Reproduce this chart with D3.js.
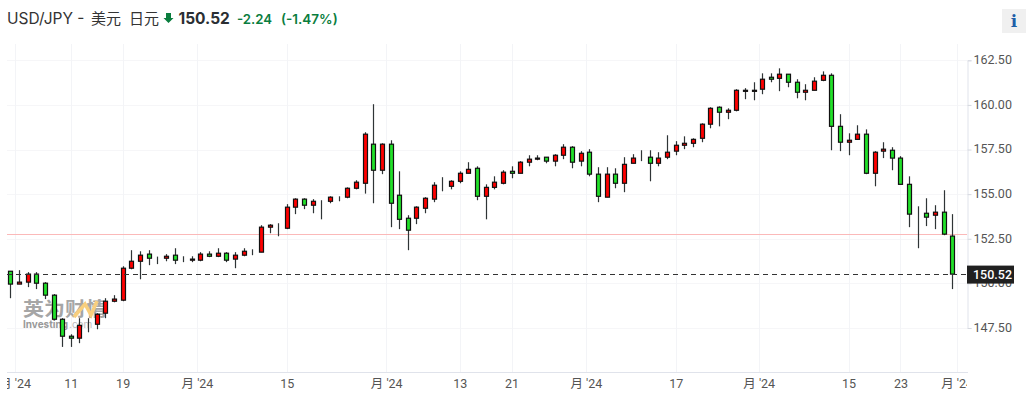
<!DOCTYPE html>
<html>
<head>
<meta charset="utf-8">
<script src="https://cdn.jsdelivr.net/npm/d3@7"></script>
<style>
  html, body { margin: 0; padding: 0; background: #fff; overflow: hidden; }
  text { font-family: Inter, "Noto Sans CJK SC", sans-serif; }
</style>
</head>
<body>
<div id="chart"></div>
<script>
// candles, oldest first
var opens = [150.68,149.96,150.07,150.52,150.01,149.34,147.99,147.04,146.93,147.71,147.71,148.33,149.00,149.06,150.85,151.24,151.64,151.41,151.41,151.58,151.36,151.30,151.30,151.64,151.52,151.69,151.36,151.58,151.75,151.75,153.15,153.26,153.09,154.27,154.72,154.38,154.60,154.60,154.83,154.83,155.33,155.61,157.80,156.34,157.80,154.94,153.65,153.65,154.21,154.72,155.44,155.44,155.72,156.17,156.45,154.88,155.38,155.61,156.28,156.17,156.79,156.96,157.07,156.85,157.18,157.63,156.85,157.35,156.12,154.83,156.12,155.61,156.73,157.07,157.07,156.73,157.07,157.41,157.74,157.85,158.13,158.92,159.87,159.59,159.70,160.76,160.76,160.88,161.55,161.49,161.72,161.27,160.71,160.82,161.38,161.66,158.80,157.91,158.07,158.36,156.17,157.41,157.46,157.02,155.55,153.93,153.93,153.82,153.99,152.65];
var highs = [150.68,150.74,150.63,150.63,150.07,149.40,148.05,147.15,148.05,148.05,148.33,149.17,149.34,150.96,151.86,151.80,151.86,151.50,151.64,151.97,151.52,151.52,151.75,151.80,151.97,151.75,151.75,151.97,151.91,153.26,153.32,153.37,154.44,154.77,154.77,154.72,154.66,154.88,154.88,155.38,155.78,158.47,160.04,157.85,158.02,156.28,153.82,154.32,154.83,155.67,155.95,155.78,156.28,156.79,156.56,155.55,156.00,156.34,156.56,156.85,157.18,157.18,157.07,157.24,157.80,157.69,157.41,157.52,156.51,156.51,156.45,157.07,157.24,157.46,157.46,157.35,158.30,157.97,158.24,158.13,158.97,159.87,159.92,159.81,160.88,160.94,161.27,161.77,161.77,162.05,161.72,161.44,161.16,161.55,161.88,161.77,159.48,158.41,158.86,158.63,157.41,157.91,157.63,157.13,156.00,154.32,154.77,154.38,155.22,153.88];
var lows = [149.17,149.96,149.79,149.68,149.12,147.93,146.44,146.44,146.65,147.26,147.43,148.05,148.94,149.00,150.79,150.23,151.02,151.08,151.24,151.08,151.19,151.19,151.24,151.47,151.47,151.19,150.85,151.52,151.58,151.75,152.81,152.64,153.04,153.88,154.16,153.93,153.59,154.49,154.60,154.77,155.27,155.03,154.49,156.12,153.15,153.04,151.86,153.32,153.93,154.55,155.16,155.27,155.61,156.17,154.66,153.59,155.27,155.55,155.89,156.17,156.56,156.90,156.73,156.56,156.96,156.45,156.56,156.00,154.55,154.83,155.33,155.11,156.73,156.85,155.72,156.56,156.96,157.18,157.52,157.63,157.91,158.69,158.80,159.20,159.64,160.32,160.26,160.60,161.27,160.77,160.99,160.37,160.26,160.82,161.33,157.46,157.41,157.18,158.07,156.12,155.44,157.02,156.34,155.55,153.15,151.97,153.21,153.04,152.70,149.68];
var closes = [149.96,150.07,150.52,150.01,149.34,147.99,147.04,146.93,147.65,147.71,148.27,149.00,149.12,150.85,151.24,151.58,151.41,151.41,151.52,151.30,151.36,151.36,151.64,151.52,151.69,151.30,151.58,151.80,151.75,153.15,153.26,153.26,154.27,154.72,154.38,154.60,154.60,154.83,154.83,155.33,155.67,158.36,156.34,157.80,154.49,153.59,152.98,154.27,154.77,155.50,155.44,155.72,156.17,156.39,154.88,155.38,155.67,156.23,156.17,156.79,156.96,157.02,156.85,157.18,157.63,156.79,157.29,156.12,154.88,156.12,155.61,156.67,157.02,157.07,156.73,157.02,157.35,157.74,157.85,158.07,158.92,159.81,159.59,159.70,160.82,160.82,160.82,161.44,161.44,161.72,161.27,160.71,160.82,161.33,161.66,158.80,157.91,158.02,158.36,156.17,157.35,157.52,157.02,155.55,153.88,153.93,153.71,153.99,152.76,150.52];

var priceTicks = [147.5, 150, 152.5, 155, 157.5, 160, 162.5];
// candle position of each date tick
var dateTicks = [0.5, 7, 13, 21.6, 32, 43.5, 52, 58, 66.6, 77, 86.6, 97, 103, 109.5];
var dateLabels = ["月 '24", "11", "19", "月 '24", "15", "月 '24", "13", "21", "月 '24", "17", "月 '24", "15", "23", "月 '24"];

var lastPrice = 150.52;
var prevClose = 152.76;

var width = 1032, height = 400;
var plotLeft = 7, plotRight = 967, plotTop = 44, plotBottom = 372;

var svg = d3.select("#chart").append("svg")
  .attr("width", width)
  .attr("height", height)
  .style("display", "block");

var x = d3.scaleLinear().domain([0, 109]).range([10.3, 952.3]);
var y = d3.scaleLinear().domain([147.5, 162.5]).range([328, 60.3]);

function crisp(v) { return Math.round(v) + 0.5; }

svg.append("clipPath").attr("id", "plotClip").append("rect")
  .attr("x", plotLeft).attr("y", 0)
  .attr("width", plotRight - plotLeft).attr("height", height);

// grid
var grid = svg.append("g");
grid.selectAll(".gh").data(priceTicks).enter().append("line")
  .attr("x1", plotLeft).attr("x2", plotRight)
  .attr("y1", function(d) { return crisp(y(d)); })
  .attr("y2", function(d) { return crisp(y(d)); })
  .attr("stroke", "#f6f6f8");
grid.selectAll(".gv").data(dateTicks).enter().append("line")
  .attr("x1", function(d) { return crisp(x(d)); })
  .attr("x2", function(d) { return crisp(x(d)); })
  .attr("y1", plotTop).attr("y2", plotBottom)
  .attr("stroke", "#f3f4f7");

// watermark
var mark = svg.append("g");
mark.append("text").attr("x", 23).attr("y", 316)
  .attr("font-size", 19).attr("font-weight", 700).attr("fill", "#a6a6a6")
  .attr("textLength", 84).attr("lengthAdjust", "spacingAndGlyphs")
  .style("font-family", "'Noto Sans CJK SC'")
  .text("英为财情");
mark.append("path")
  .attr("d", "M74 317L85 304L91 315L97 301")
  .attr("fill", "none").attr("stroke", "#f8cf7e").attr("stroke-width", 3.5);
mark.append("text").attr("x", 23).attr("y", 328)
  .attr("font-size", 11).attr("font-weight", 700).attr("fill", "#999")
  .attr("textLength", 45).attr("lengthAdjust", "spacingAndGlyphs")
  .text("Investing");
mark.append("text").attr("x", 69).attr("y", 328)
  .attr("font-size", 10).attr("fill", "#bbb")
  .text(".com");

// previous close line
svg.append("line")
  .attr("x1", plotLeft).attr("x2", plotRight)
  .attr("y1", crisp(y(prevClose))).attr("y2", crisp(y(prevClose)))
  .attr("stroke", "#fbb9b9");

// candles
var candles = svg.append("g").selectAll("g").data(d3.range(opens.length)).enter().append("g");
candles.append("line")
  .attr("x1", function(i) { return crisp(x(i)); })
  .attr("x2", function(i) { return crisp(x(i)); })
  .attr("y1", function(i) { return y(highs[i]); })
  .attr("y2", function(i) { return y(lows[i]); })
  .attr("stroke", "#2f3436")
  .attr("stroke-width", 1.2);
candles.append("rect")
  .attr("x", function(i) { return crisp(x(i)) - 2; })
  .attr("width", 4)
  .attr("y", function(i) { return y(Math.max(opens[i], closes[i])); })
  .attr("height", function(i) { return Math.abs(y(opens[i]) - y(closes[i])); })
  .attr("fill", function(i) { return closes[i] >= opens[i] ? "#ff0000" : "#22e02a"; })
  .attr("stroke", "#111")
  .attr("stroke-width", 1.2);

// axes
var yAxis = svg.append("g")
  .attr("transform", "translate(" + (plotRight + 0.5) + ",0)")
  .call(d3.axisRight(y).tickValues(priceTicks).tickSize(4).tickPadding(2).tickFormat(d3.format(".2f")));
var xAxis = svg.append("g")
  .attr("clip-path", "url(#plotClip)")
  .append("g")
  .attr("transform", "translate(0," + (plotBottom + 0.5) + ")")
  .call(d3.axisBottom(x).tickValues(dateTicks).tickSize(0).tickPadding(7)
    .tickFormat(function(d, i) { return dateLabels[i]; }));
xAxis.select(".domain").remove();
yAxis.select(".domain").attr("stroke", "#e0e3eb");
yAxis.selectAll("line").attr("stroke", "#d5d8df");
yAxis.selectAll("text").attr("font-size", 12.5).attr("fill", "#555").attr("dy", "0.26em").style("font-family", "Roboto");
xAxis.selectAll("text").attr("font-size", 12.5).attr("fill", "#555")
  .style("font-family", "Roboto, 'Noto Sans CJK SC'");
svg.append("line")
  .attr("x1", plotLeft).attr("x2", plotRight + 1)
  .attr("y1", plotBottom + 0.5).attr("y2", plotBottom + 0.5)
  .attr("stroke", "#e0e3eb");
svg.append("line")
  .attr("x1", plotLeft).attr("x2", plotRight)
  .attr("y1", crisp(y(lastPrice))).attr("y2", crisp(y(lastPrice)))
  .attr("stroke", "#333")
  .attr("stroke-dasharray", "5,4");

// last price tag
svg.append("rect")
  .attr("x", plotRight).attr("y", y(lastPrice) - 8.5)
  .attr("width", 47).attr("height", 18)
  .attr("fill", "#202020");
svg.append("text")
  .attr("x", plotRight + 6).attr("y", y(lastPrice) + 4.5)
  .attr("font-size", 12.5).attr("font-weight", 500).attr("fill", "#fff")
  .style("font-family", "Roboto")
  .text(d3.format(".2f")(lastPrice));

// header
var head = svg.append("g");
head.append("text").attr("x", 7).attr("y", 24)
  .attr("font-size", 15.5).attr("fill", "#333")
  .text("USD/JPY -");
head.append("text").attr("x", 91).attr("y", 24)
  .attr("font-size", 15).attr("fill", "#333")
  .text("美元");
head.append("text").attr("x", 129).attr("y", 24)
  .attr("font-size", 15).attr("fill", "#333")
  .text("日元");
head.append("path")
  .attr("d", "M166 13H171V18H173.5L168.5 23L163.5 18H166Z")
  .attr("fill", "#0a7d3e");
head.append("text").attr("x", 178.5).attr("y", 24)
  .attr("font-size", 15.5).attr("font-weight", 700).attr("fill", "#2a2e33")
  .text(d3.format(".2f")(lastPrice));
head.append("text").attr("x", 237).attr("y", 24)
  .attr("font-size", 13.2).attr("font-weight", 600).attr("fill", "#0a7d3e")
  .text("-2.24");
head.append("text").attr("x", 281).attr("y", 24)
  .attr("font-size", 13.5).attr("font-weight", 600).attr("fill", "#0a7d3e")
  .text("(-1.47%)");

// info button
svg.append("rect")
  .attr("x", 1002).attr("y", 9)
  .attr("width", 24).attr("height", 24)
  .attr("fill", "#f0f0f0");
svg.append("text")
  .attr("x", 1014).attr("y", 27)
  .attr("text-anchor", "middle")
  .attr("font-size", 17).attr("font-weight", 700).attr("fill", "#1f5fa8")
  .style("font-family", "'DejaVu Serif'")
  .text("i");
</script>
</body>
</html>
